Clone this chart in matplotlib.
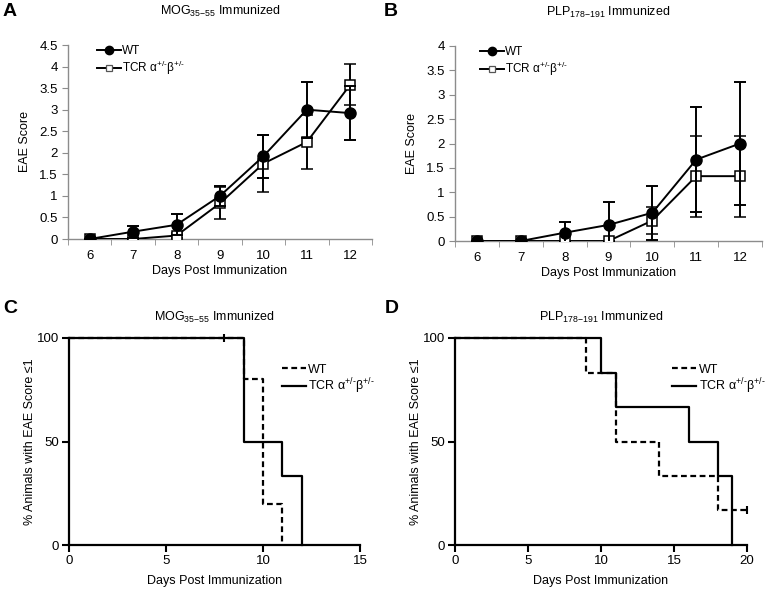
import matplotlib
matplotlib.use("Agg")
import matplotlib.pyplot as plt
from matplotlib.lines import Line2D
import numpy as np

plt.rcParams['font.family'] = ['Liberation Sans', 'DejaVu Sans']
plt.rcParams['mathtext.fontset'] = 'custom'
plt.rcParams['mathtext.rm'] = 'Liberation Sans'
plt.rcParams['mathtext.default'] = 'regular'

# ---- data ----
days = [6, 7, 8, 9, 10, 11, 12]

mog_wt = [0, 0.17, 0.33, 1.0, 1.92, 3.0, 2.92]
mog_wt_err = [0, 0.14, 0.24, 0.24, 0.5, 0.65, 0.63]
mog_tcr = [0, 0, 0.08, 0.83, 1.75, 2.25, 3.58]
mog_tcr_err = [0, 0, 0.05, 0.37, 0.67, 0.62, 0.47]

plp_wt = [0, 0, 0.17, 0.33, 0.58, 1.67, 2.0]
plp_wt_err = [0, 0, 0.23, 0.47, 0.55, 1.08, 1.27]
plp_tcr = [0, 0, 0, 0, 0.42, 1.33, 1.33]
plp_tcr_err = [0, 0, 0, 0, 0.27, 0.83, 0.83]

km_mog_wt_t = [0, 9, 10, 11]
km_mog_wt_s = [100, 80, 20, 0]
km_mog_tcr_t = [0, 9, 11, 12]
km_mog_tcr_s = [100, 50, 33.3, 0]
km_mog_censor_t = [8]
km_mog_censor_s = [100]

km_plp_wt_t = [0, 9, 11, 14, 18, 20]
km_plp_wt_s = [100, 83.3, 50, 33.3, 16.7, 16.7]
km_plp_tcr_t = [0, 10, 11, 16, 18, 19]
km_plp_tcr_s = [100, 83.3, 66.7, 50, 33.3, 0]
km_plp_censor_t = [20]
km_plp_censor_s = [16.7]

W, H = 765, 589
fig = plt.figure(figsize=(W / 100, H / 100), dpi=100)

def ax_px(l, r, top, bot):
    return fig.add_axes([l / W, (H - bot) / H, (r - l) / W, (bot - top) / H])

tcr_label = 'TCR α$^{+/\u2010}$β$^{+/\u2010}$'
gray = '#8c8c8c'
fs = 9

def score_panel(ax, wt, wt_e, tcr, tcr_e, ymax, title, letter, lx, leg_x):
    ax.errorbar(days, tcr, yerr=tcr_e, color='black', lw=1.4, capsize=4.5,
                capthick=1.4, marker='s', ms=7.5, mfc='white', mec='black',
                mew=1.1, zorder=3)
    ax.errorbar(days, wt, yerr=wt_e, color='black', lw=1.4, capsize=4.5,
                capthick=1.4, marker='o', ms=8, mfc='black', mec='black',
                zorder=4)
    ax.set_xlim(5.5, 12.5)
    ax.set_ylim(0, ymax)
    yt = np.arange(0, ymax + 0.01, 0.5)
    ax.set_yticks(yt)
    ax.set_yticklabels([('%g' % v) for v in yt])
    ax.set_xticks(days)
    ax.set_xticks(np.arange(5.5, 12.6, 1.0), minor=True)
    ax.tick_params(axis='x', which='major', length=0, labelsize=fs + 0.5, pad=8)
    ax.tick_params(axis='x', which='minor', length=4, color=gray, direction='out')
    ax.tick_params(axis='y', length=4, color=gray, labelsize=fs + 0.5, direction='out')
    for s in ['top', 'right']:
        ax.spines[s].set_visible(False)
    for s in ['left', 'bottom']:
        ax.spines[s].set_color(gray)
        ax.spines[s].set_linewidth(1.0)
    ax.set_xlabel('Days Post Immunization', fontsize=fs, labelpad=2)
    ax.set_ylabel('EAE Score', fontsize=fs, labelpad=6)
    handles = [
        Line2D([], [], color='black', lw=1.4, marker='o', ms=6, mfc='black'),
        Line2D([], [], color='black', lw=1.4, marker='s', ms=5, mfc='white',
               mec='#555555', mew=0.9),
    ]
    ax.legend(handles, ['WT', tcr_label], loc='upper left',
              bbox_to_anchor=(leg_x, 1.05), frameon=False, fontsize=8.5,
              handlelength=2.0, handletextpad=0.1, labelspacing=0.15,
              borderpad=0.3)
    ax.set_title(title, fontsize=fs, pad=22)
    fig.text(lx / W, 1 - 11 / H, letter, fontsize=14, fontweight='bold',
             va='center', ha='left')

axA = ax_px(68, 372, 45, 239)
score_panel(axA, mog_wt, mog_wt_err, mog_tcr, mog_tcr_err, 4.5,
            r'MOG$_{35{-}55}$ Immunized', 'A', 3, 0.064)
axB = ax_px(455, 762, 46, 241)
score_panel(axB, plp_wt, plp_wt_err, plp_tcr, plp_tcr_err, 4.0,
            r'PLP$_{178{-}191}$ Immunized', 'B', 384, 0.052)

def km_panel(ax, wt_t, wt_s, tcr_t, tcr_s, c_t, c_s, xmax, title, letter, lx, leg_x):
    ax.step(wt_t, wt_s, where='post', color='black', lw=1.6, ls=(0, (2.6, 1.6)),
            label='WT')
    ax.step(tcr_t, tcr_s, where='post', color='black', lw=1.6, label=tcr_label)
    ax.plot(c_t, c_s, ls='none', marker='|', ms=6, mew=1.5, color='black')
    ax.set_xlim(0, xmax)
    ax.set_ylim(0, 100)
    ax.set_yticks([0, 50, 100])
    ax.set_xticks(np.arange(0, xmax + 1, 5))
    ax.tick_params(length=5, width=1.5, labelsize=fs + 0.5, direction='out', pad=2)
    for s in ['top', 'right']:
        ax.spines[s].set_visible(False)
    for s in ['left', 'bottom']:
        ax.spines[s].set_linewidth(1.6)
    ax.set_xlabel('Days Post Immunization', fontsize=fs, labelpad=6)
    ax.set_ylabel('% Animals with EAE Score ≤1', fontsize=fs, labelpad=1)
    ax.legend(loc='upper left', bbox_to_anchor=(leg_x, 0.925), frameon=False,
              fontsize=9, handlelength=1.9, handletextpad=0.2,
              labelspacing=0.1, borderpad=0.3)
    ax.set_title(title, fontsize=fs, pad=12)
    for ln in ax.lines:
        ln.set_clip_on(False)
    fig.text(lx / W, 1 - 308 / H, letter, fontsize=14, fontweight='bold',
             va='center', ha='left')

axC = ax_px(69, 360, 338, 545)
km_panel(axC, km_mog_wt_t, km_mog_wt_s, km_mog_tcr_t, km_mog_tcr_s,
         km_mog_censor_t, km_mog_censor_s, 15,
         r'MOG$_{35{-}55}$ Immunized', 'C', 3, 0.698)
axD = ax_px(455, 747, 338, 545)
km_panel(axD, km_plp_wt_t, km_plp_wt_s, km_plp_tcr_t, km_plp_tcr_s,
         km_plp_censor_t, km_plp_censor_s, 20,
         r'PLP$_{178{-}191}$ Immunized', 'D', 385, 0.71)

fig.savefig('out.png', dpi=100)
